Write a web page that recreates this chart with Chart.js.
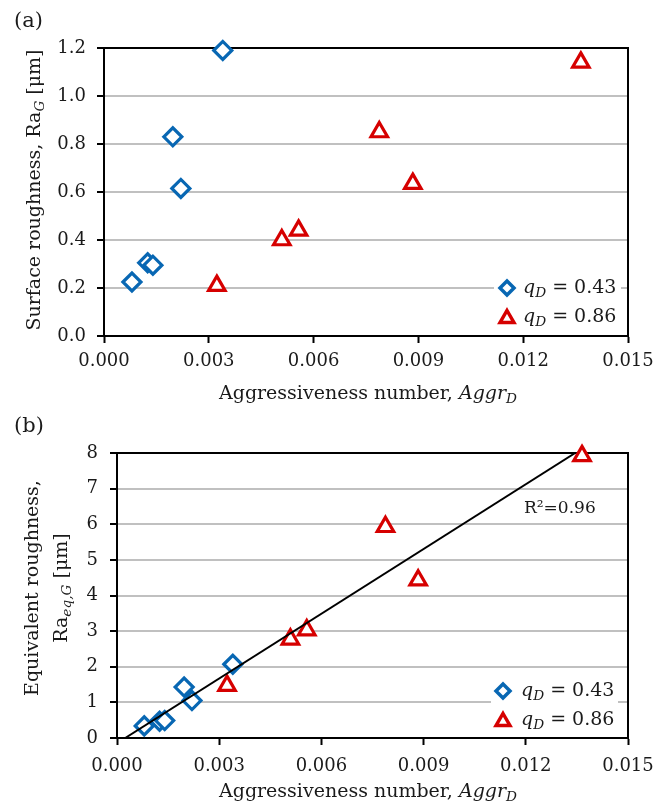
<!DOCTYPE html>
<html>
<head>
<meta charset="utf-8">
<script src="https://cdn.jsdelivr.net/npm/chart.js@4.4.0/dist/chart.umd.min.js"></script>
<style>
  body { margin: 0; background: #fff; }
  #wrap { position: relative; width: 672px; height: 806px; }
  canvas { position: absolute; left: 0; }
  #chartA { top: 0; }
  #chartB { top: 400px; }
</style>
</head>
<body>
<div id="wrap">
  <canvas id="chartA" width="672" height="412"></canvas>
  <canvas id="chartB" width="672" height="406"></canvas>
</div>
<script>
const FONT = '"DejaVu Serif", serif';
const TEXT = '#1a1a1a';
const BLUE = '#0867b3';
const RED = '#d60000';
const GRID = '#c0c0c0';

// tick labels
const xTicks = [0, 0.003, 0.006, 0.009, 0.012, 0.015];
const yTicksA = [0, 0.2, 0.4, 0.6, 0.8, 1.0, 1.2];
const yTicksB = [0, 1, 2, 3, 4, 5, 6, 7, 8];

// aggressiveness number for each run
const aggrLow = [0.0034, 0.00197, 0.0022, 0.0008, 0.00125, 0.0014];      // qD = 0.43
const aggrHigh = [0.00323, 0.00509, 0.00557, 0.00788, 0.00884, 0.01365]; // qD = 0.86

// (a) surface roughness Ra_G [um]
const raLow = [1.19, 0.83, 0.615, 0.225, 0.305, 0.295];
const raHigh = [0.21, 0.40, 0.44, 0.85, 0.635, 1.14];

// (b) equivalent roughness Ra_eq,G [um]
const raEqLow = [2.07, 1.43, 1.05, 0.34, 0.47, 0.49];
const raEqHigh = [1.47, 2.77, 3.03, 5.93, 4.43, 7.92];

// linear fit in (b)
const fitX = [0.00024, 0.01345];
const fitY = [0, 8];

const pts = (xs, ys) => xs.map((x, i) => ({ x, y: ys[i] }));

function drawRich(ctx, parts, x, y, size, align) {
  const fontOf = st => (st.includes('i') ? 'italic ' : '') +
    (st.includes('sub') ? size * 0.72 : size) + 'px ' + FONT;
  let w = 0;
  parts.forEach(([t, st]) => { ctx.font = fontOf(st || ''); w += ctx.measureText(t).width; });
  let cx = align === 'center' ? x - w / 2 : x;
  ctx.textBaseline = 'middle';
  ctx.textAlign = 'left';
  ctx.fillStyle = TEXT;
  parts.forEach(([t, st]) => {
    st = st || '';
    ctx.font = fontOf(st);
    const dy = st.includes('sub') ? size * 0.28 : 0;
    ctx.fillText(t, cx, y + dy);
    cx += ctx.measureText(t).width;
  });
}

function drawRotated(ctx, parts, x, y, size) {
  ctx.save();
  ctx.translate(x, y);
  ctx.rotate(-Math.PI / 2);
  drawRich(ctx, parts, 0, 0, size, 'center');
  ctx.restore();
}

function diamond(ctx, x, y, r) {
  ctx.beginPath();
  ctx.moveTo(x - r, y); ctx.lineTo(x, y - r); ctx.lineTo(x + r, y); ctx.lineTo(x, y + r);
  ctx.closePath();
  ctx.strokeStyle = BLUE; ctx.lineWidth = 3.5; ctx.stroke();
}

function triangle(ctx, x, y, r) {
  ctx.beginPath();
  ctx.moveTo(x, y - r); ctx.lineTo(x + r * 0.866, y + r * 0.5); ctx.lineTo(x - r * 0.866, y + r * 0.5);
  ctx.closePath();
  ctx.strokeStyle = RED; ctx.lineWidth = 3.5; ctx.stroke();
}

function drawLegend(ctx, box, mx, y1, y2, tx) {
  ctx.fillStyle = '#fff';
  ctx.fillRect(box[0], box[1], box[2], box[3]);
  diamond(ctx, mx, y1, 7);
  triangle(ctx, mx, y2 + 1.5, 8);
  drawRich(ctx, [['q', 'i'], ['D', 'isub'], [' = 0.43']], tx, y1, 19, 'left');
  drawRich(ctx, [['q', 'i'], ['D', 'isub'], [' = 0.86']], tx, y2, 19, 'left');
}

function framePlugin(extra) {
  return {
    id: 'frame',
    beforeDatasetsDraw(chart) {
      const ctx = chart.ctx;
      const a = chart.chartArea;
      ctx.save();
      extra.legend(ctx);
      ctx.strokeStyle = '#000';
      ctx.lineWidth = 2;
      ctx.strokeRect(a.left, a.top, a.right - a.left, a.bottom - a.top);
      ctx.restore();
    },
    afterDraw(chart) {
      const ctx = chart.ctx;
      ctx.save();
      extra.text(ctx);
      ctx.restore();
    }
  };
}

function scatterSet(label, data, color, style, radius) {
  return {
    type: 'scatter', label, data,
    pointStyle: style, pointRadius: radius, pointHoverRadius: radius,
    borderColor: color, backgroundColor: '#fff', pointBorderWidth: 3.2,
    clip: false
  };
}

function makeOptions(yTicks, yWidth, xHeight, padTop, xPad, yPad) {
  return {
    responsive: false,
    animation: false,
    events: [],
    layout: { padding: { top: padTop, right: 44, left: 0, bottom: 0 } },
    plugins: { legend: { display: false }, tooltip: { enabled: false } },
    scales: {
      x: {
        type: 'linear', min: xTicks[0], max: xTicks[xTicks.length - 1],
        afterBuildTicks: s => { s.ticks = xTicks.map(v => ({ value: v })); },
        afterFit: s => { s.height = xHeight; },
        grid: { drawOnChartArea: false, drawTicks: true, tickLength: 7, tickColor: '#000', tickWidth: 2 },
        border: { color: '#000', width: 2 },
        ticks: { padding: xPad, color: TEXT, font: { family: FONT, size: 18 }, maxRotation: 0,
          callback: v => v.toFixed(3) }
      },
      y: {
        type: 'linear', min: yTicks[0], max: yTicks[yTicks.length - 1],
        afterBuildTicks: s => { s.ticks = yTicks.map(v => ({ value: v })); },
        afterFit: s => { s.width = yWidth; },
        grid: { color: GRID, lineWidth: 2, tickLength: 7, tickColor: '#000', tickWidth: 2 },
        border: { color: '#000', width: 2 },
        ticks: { padding: yPad, color: TEXT, font: { family: FONT, size: 18 },
          callback: v => (yTicks === yTicksA ? v.toFixed(1) : String(v)) }
      }
    }
  };
}

// (a)
new Chart(document.getElementById('chartA'), {
  type: 'scatter',
  data: {
    datasets: [
      scatterSet('qD = 0.43', pts(aggrLow, raLow), BLUE, 'rectRot', 9),
      scatterSet('qD = 0.86', pts(aggrHigh, raHigh), RED, 'triangle', 9.5)
    ]
  },
  options: makeOptions(yTicksA, 104, 76, 48, 8, 11),
  plugins: [framePlugin({
    legend: ctx => drawLegend(ctx, [494, 272, 127, 63], 507, 288, 317, 523),
    text: ctx => {
      drawRich(ctx, [['(a)']], 14, 22, 21, 'left');
      drawRotated(ctx, [['Surface roughness, Ra'], ['G', 'isub'], [' [μm]']], 35, 190, 19);
      drawRich(ctx, [['Aggressiveness number, '], ['Aggr', 'i'], ['D', 'isub']], 368, 394, 19, 'center');
    }
  })]
});

// (b)
new Chart(document.getElementById('chartB'), {
  type: 'scatter',
  data: {
    datasets: [
      {
        type: 'line', label: 'fit', data: pts(fitX, fitY),
        borderColor: '#000', borderWidth: 2, pointRadius: 0, fill: false, tension: 0
      },
      scatterSet('qD = 0.43', pts(aggrLow, raEqLow), BLUE, 'rectRot', 9),
      scatterSet('qD = 0.86', pts(aggrHigh, raEqHigh), RED, 'triangle', 9.5)
    ]
  },
  options: makeOptions(yTicksB, 117, 68, 53, 11, 12),
  plugins: [framePlugin({
    legend: ctx => drawLegend(ctx, [491, 277, 127, 60], 503, 291, 320, 521),
    text: ctx => {
      drawRich(ctx, [['(b)']], 14, 27, 21, 'left');
      drawRotated(ctx, [['Equivalent roughness,']], 33, 188, 19);
      drawRotated(ctx, [['Ra'], ['eq,G', 'isub'], [' [μm]']], 62, 188, 19);
      drawRich(ctx, [['R²=0.96']], 524, 109, 17, 'left');
      drawRich(ctx, [['Aggressiveness number, '], ['Aggr', 'i'], ['D', 'isub']], 368, 392, 19, 'center');
    }
  })]
});
</script>
</body>
</html>
